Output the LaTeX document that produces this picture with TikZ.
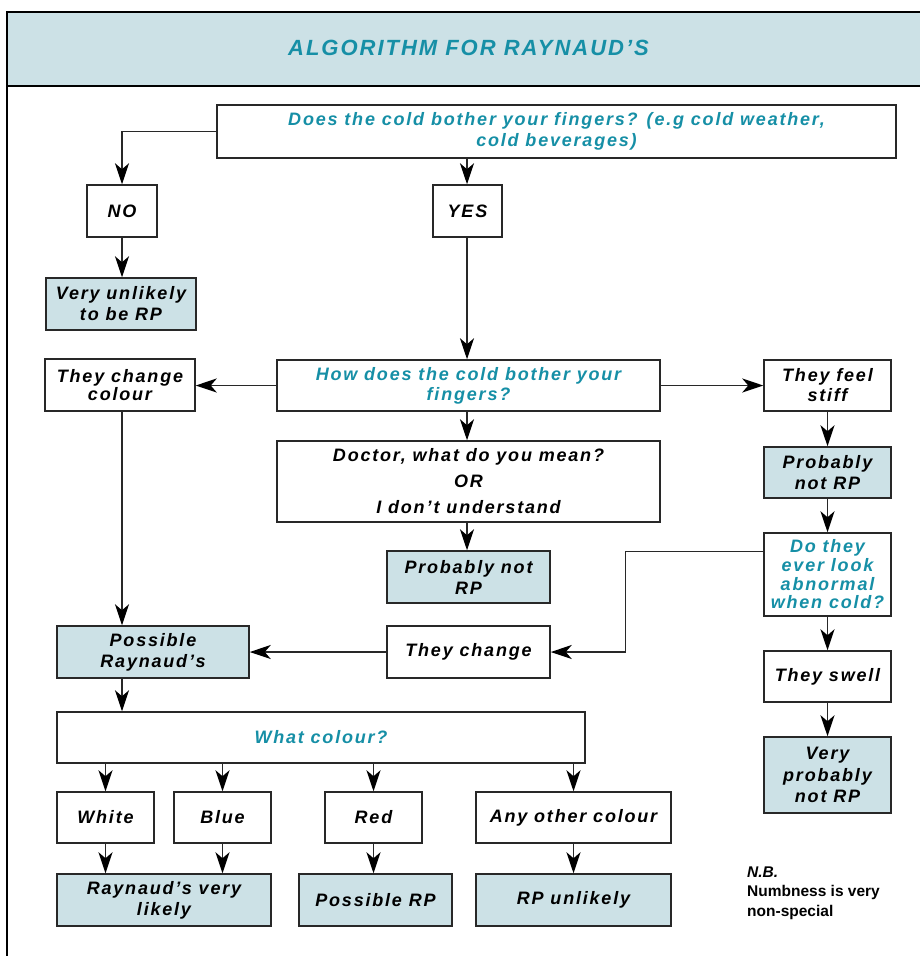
\documentclass[tikz,border=0pt]{standalone}
\usepackage{fontspec}
\setmainfont{Liberation Sans}
\newfontfamily\boxf{Liberation Sans}[LetterSpace=10]
\newfontfamily\titlef{Liberation Sans}[LetterSpace=9]
\usetikzlibrary{arrows.meta}
\definecolor{tealq}{RGB}{22,143,166}
\definecolor{fillb}{RGB}{204,225,230}
\definecolor{edgec}{RGB}{40,40,40}
\begin{document}
\begin{tikzpicture}[x=1pt,y=-1pt,
  box/.style={draw=edgec, line width=1.5pt, inner sep=0pt, align=center,
    font=\boxf\bfseries\itshape\fontsize{18}{20}\selectfont, text=black},
  res/.style={box, fill=fillb},
  qst/.style={box, text=tealq},
  arr/.style={draw=edgec, line width=1.5pt, -{Stealth[length=21pt,width=14pt,inset=6pt,fill=black,color=black]}},
  lead/.style={font=\boxf\bfseries\itshape\fontsize{18}{#1}\selectfont}
]
\useasboundingbox (0,0) rectangle (920,956);
\clip (0,0) rectangle (920,956);

% frame and title bar
\fill[fillb] (7,12) rectangle (930,86);
\draw[line width=2.2pt] (7,12) -- (930,12);
\draw[line width=2.3pt] (7,86) -- (930,86);
\draw[line width=2.6pt] (7,11) -- (7,970);
\node[text=tealq, font=\titlef\bfseries\itshape\fontsize{22}{24}\selectfont] (title) at (468.5,47.5) {ALGORITHM FOR RAYNAUD’S};

% nodes
\node[qst, lead=21, minimum width=679, minimum height=53] (q1) at (556.5,131.5) {Does the cold bother your fingers? (e.g cold weather,\\cold beverages)};
\node[box, minimum width=70, minimum height=52] (no) at (122,211) {NO};
\node[box, minimum width=69, minimum height=52] (yes) at (467.5,211) {YES};
\node[res, lead=21, minimum width=150, minimum height=52] (vu) at (121,304) {Very unlikely\\to be RP};
\node[box, lead=18, minimum width=150, minimum height=52] (cc) at (120,385) {They change\\colour};
\node[qst, minimum width=383, minimum height=51] (how) at (468.5,385.5) {How does the cold bother your\\fingers?};
\node[box, minimum width=127, minimum height=51] (stiff) at (827.5,385.5) {They feel\\stiff};
\node[box, lead=26, minimum width=383, minimum height=81] (doc) at (468.5,481.5) {Doctor, what do you mean?\\OR\\I don’t understand};
\node[res, lead=21, minimum width=163, minimum height=52] (pnm) at (468.5,577) {Probably not\\RP};
\node[res, lead=21.5, minimum width=127, minimum height=51] (pnr) at (827.5,472.5) {Probably\\not RP};
\node[qst, lead=18.7, minimum width=127, minimum height=83] (dt) at (827.5,574.5) {Do they\\ever look\\abnormal\\when cold?};
\node[box, minimum width=163, minimum height=52] (tc) at (468.5,652) {They change};
\node[res, lead=21, minimum width=192, minimum height=52] (poss) at (153,652) {Possible\\Raynaud’s};
\node[box, minimum width=127, minimum height=51] (sw) at (827.5,676.5) {They swell};
\node[res, lead=21.7, minimum width=127, minimum height=76] (vpn) at (827.5,775) {Very\\probably\\not RP};
\node[qst, minimum width=528, minimum height=51] (wc) at (321,737.5) {What colour?};
\node[box, minimum width=97, minimum height=51] (wh) at (105.5,817.5) {White};
\node[box, minimum width=97, minimum height=51] (bl) at (222.5,817.5) {Blue};
\node[box, minimum width=97, minimum height=51] (rd) at (373.5,817.5) {Red};
\node[box, minimum width=195, minimum height=51] (an) at (573.5,817.5) {Any other colour};
\node[res, lead=21, minimum width=214, minimum height=52] (rvl) at (164,900) {Raynaud’s very\\likely};
\node[res, minimum width=153, minimum height=52] (prp) at (375.5,900) {Possible RP};
\node[res, minimum width=195, minimum height=52] (rpu) at (573.5,900) {RP unlikely};
\node[anchor=north west, inner sep=0pt, align=left, font=\bfseries\fontsize{15.5}{19.5}\selectfont] (nb) at (747,866.5) {\textit{N.B.}\\Numbness is very\\non-special};

% connectors
\coordinate (sp) at (467,0);
\draw[arr] (q1.west) -| (no.north);
\draw[arr] (sp |- q1.south) -- (sp |- yes.north);
\draw[arr] (no.south) -- (no.south |- vu.north);
\draw[arr] (sp |- yes.south) -- (sp |- how.north);
\draw[arr] (how.west) -- (how.west -| cc.east);
\draw[arr] (how.east) -- (how.east -| stiff.west);
\draw[arr] (sp |- how.south) -- (sp |- doc.north);
\draw[arr] (sp |- doc.south) -- (sp |- pnm.north);
\coordinate (cx) at (122,0);
\draw[arr] (cx |- cc.south) -- (cx |- poss.north);
\draw[arr] (stiff.south) -- (pnr.north);
\draw[arr] (pnr.south) -- (dt.north);
\draw[arr] ([yshift=-19pt]dt.north west) -- ++(-138,0) |- (tc.east);
\draw[arr] (dt.south) -- (sw.north);
\draw[arr] (sw.south) -- (vpn.north);
\draw[arr] (tc.west) -- (tc.west -| poss.east);
\draw[arr] (cx |- poss.south) -- (cx |- wc.north);
\draw[arr] (wh.north |- wc.south) -- (wh.north);
\draw[arr] (bl.north |- wc.south) -- (bl.north);
\draw[arr] (rd.north |- wc.south) -- (rd.north);
\draw[arr] (an.north |- wc.south) -- (an.north);
\draw[arr] (wh.south) -- (wh.south |- rvl.north);
\draw[arr] (bl.south) -- (bl.south |- rvl.north);
\draw[arr] (rd.south) -- (rd.south |- prp.north);
\draw[arr] (an.south) -- (an.south |- rpu.north);
\end{tikzpicture}
\end{document}
